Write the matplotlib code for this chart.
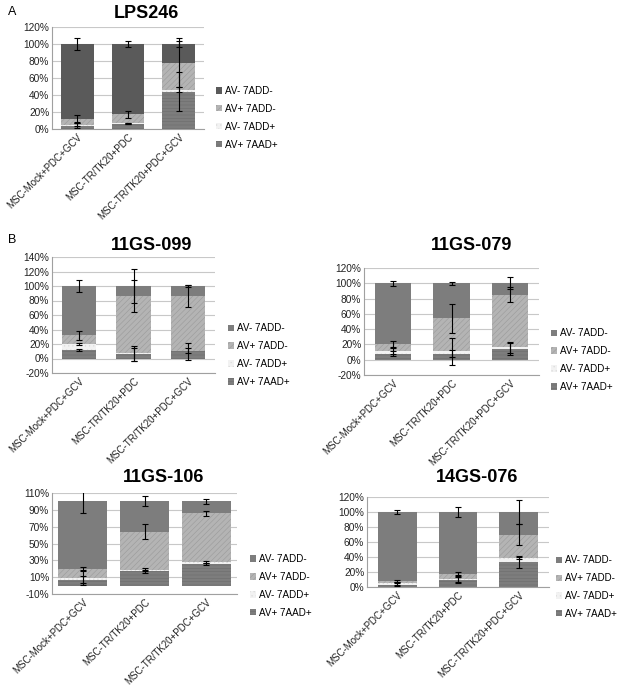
import numpy as np
import matplotlib.pyplot as plt

plt.rcParams['font.family'] = ['Liberation Sans', 'DejaVu Sans']
plt.rcParams['hatch.linewidth'] = 0.4

# categories and legend labels
categories = ['MSC-Mock+PDC+GCV', 'MSC-TR/TK20+PDC', 'MSC-TR/TK20+PDC+GCV']
series = ['AV+ 7AAD+', 'AV- 7ADD+', 'AV+ 7ADD-', 'AV- 7ADD-']

# segment values (%) per panel, bottom to top: AV+7AAD+, AV-7ADD+, AV+7ADD-, AV-7ADD-
lps246 = [[4, 6, 44], [1, 0.5, 2], [7, 11, 32], [88, 82.5, 22]]
lps246_err = [[3, 0.5, 23], [2, 0.5, 3], [4, 4, 29], [7, 4, 4]]

gs099 = [[12, 6, 10], [8, 1, 1], [12, 79, 75], [68, 14, 14]]
gs099_err = [[1, 9, 12], [2, 10, 3], [6, 22, 15], [8, 24, 2]]

gs079 = [[8, 8, 14], [4, 3, 2], [8, 43, 69], [80, 46, 15]]
gs079_err = [[3, 5, 8], [4, 18, 7], [5, 19, 10], [3, 2, 8]]

gs106 = [[7, 17, 26], [2, 2, 2], [11, 45, 58], [80, 36, 14]]
gs106_err = [[4, 2, 1], [8, 2, 1], [2, 9, 3], [14, 6, 3]]

gs076 = [[3, 9, 33], [2, 2, 6], [3, 7, 31], [92, 82, 30]]
gs076_err = [[2, 4, 7], [2, 4, 2], [1, 2, 14], [3, 7, 16]]

W, H = 620, 685
fig = plt.figure(figsize=(W / 100, H / 100), dpi=100)


def px_axes(x0, x1, ytop, ybot):
    return fig.add_axes([x0 / W, 1 - ybot / H, (x1 - x0) / W, (ybot - ytop) / H])


def panel(ax, title, tx, ty, vals, errs, ylim, step, width, dark, leg_y, leg_x, leg_fs=7.1):
    colors = ['#7d7d7d', '#f2f2f2', '#b4b4b4', dark]
    hatches = ['-----', '....', '//////', '']
    hcols = ['#6c6c6c', '#dcdcdc', '#9a9a9a', dark]
    x = np.arange(len(categories))
    bottom = np.zeros(len(categories))
    for i in range(4):
        v = np.array(vals[i], dtype=float)
        ax.bar(x, v, width, bottom=bottom, color=colors[i], hatch=hatches[i],
               edgecolor=hcols[i], linewidth=0, label=series[i], zorder=2)
        bottom = bottom + v
        ax.errorbar(x, bottom, yerr=errs[i], fmt='none', ecolor='black',
                    elinewidth=0.8, capsize=2.5, capthick=0.8, zorder=3)
    ax.set_ylim(*ylim)
    ax.set_xlim(-0.5, 2.5)
    ticks = np.arange(ylim[0], ylim[1] + 0.1, step)
    ax.set_yticks(ticks)
    ax.set_yticklabels(['%d%%' % t for t in ticks], fontsize=7.3, color='#222222')
    ax.set_xticks(x)
    ax.set_xticklabels(categories, rotation=45, ha='right', rotation_mode='anchor',
                       fontsize=7.0, color='#222222')
    ax.tick_params(length=0, pad=2)
    ax.yaxis.grid(True, color='#c8c8c8', linewidth=0.8, zorder=0)
    ax.set_axisbelow(True)
    for s in ['top', 'right']:
        ax.spines[s].set_visible(False)
    ax.spines['left'].set_color('#a0a0a0')
    ax.spines['bottom'].set_color('#a0a0a0')
    fig.text(tx / W, 1 - ty / H, title, fontsize=13, fontweight='bold',
             ha='center', va='center')
    h, l = ax.get_legend_handles_labels()
    ax.legend(h[::-1], l[::-1], loc='center left', bbox_to_anchor=(leg_x, leg_y),
              frameon=False, fontsize=leg_fs, handlelength=0.6, handleheight=0.6,
              handletextpad=0.3, labelspacing=0.8, borderaxespad=0, borderpad=0)


axA = px_axes(52, 204, 27, 129)
panel(axA, 'LPS246', 146, 13, lps246, lps246_err, (0, 120), 20, 0.64, '#5a5a5a', 0.11, 1.08)

ax1 = px_axes(52, 215, 257, 373)
panel(ax1, '11GS-099', 152, 245, gs099, gs099_err, (-20, 140), 20, 0.63, '#7d7d7d', 0.155, 1.08)

ax2 = px_axes(364, 539, 268, 375)
panel(ax2, '11GS-079', 472, 245, gs079, gs079_err, (-20, 120), 20, 0.62, '#7d7d7d', 0.14, 1.07)

ax3 = px_axes(52, 237, 493, 594)
panel(ax3, '11GS-106', 164, 478, gs106, gs106_err, (-10, 110), 20, 0.79, '#7d7d7d', 0.08, 1.07)

ax4 = px_axes(367, 549, 497, 587)
panel(ax4, '14GS-076', 477, 477, gs076, gs076_err, (0, 120), 20, 0.64, '#7d7d7d', 0.0, 1.04, 7.0)

fig.text(8 / W, 1 - 12 / H, 'A', fontsize=9, va='center')
fig.text(8 / W, 1 - 240 / H, 'B', fontsize=9, va='center')

fig.savefig('out.png', dpi=100)
